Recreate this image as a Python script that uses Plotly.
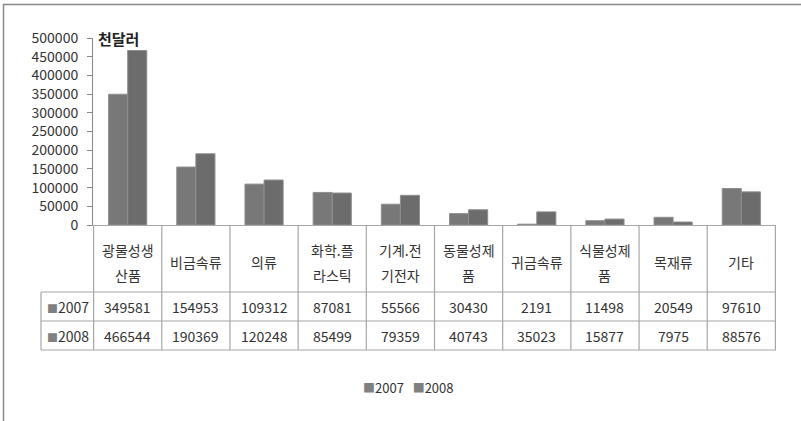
import plotly.graph_objects as go

# ---- data ----
categories = ["광물성생산품", "비금속류", "의류", "화학.플라스틱", "기계.전기전자",
              "동물성제품", "귀금속류", "식물성제품", "목재류", "기타"]
header_lines = [["광물성생", "산품"], ["비금속류"], ["의류"], ["화학.플", "라스틱"],
                ["기계.전", "기전자"], ["동물성제", "품"], ["귀금속류"], ["식물성제", "품"],
                ["목재류"], ["기타"]]
series_names = ["2007", "2008"]
values_2007 = [349581, 154953, 109312, 87081, 55566, 30430, 2191, 11498, 20549, 97610]
values_2008 = [466544, 190369, 120248, 85499, 79359, 40743, 35023, 15877, 7975, 88576]
y_ticks = [0, 50000, 100000, 150000, 200000, 250000, 300000, 350000, 400000, 450000, 500000]
unit_label = "천달러"

# ---- layout geometry (pixels) ----
W, H = 801, 421
L, R, T, B = 93, 776, 38, 225
pw, ph = R - L, B - T


def px_x(p):
    return (p - L) / pw


def px_y(p):
    return (B - p) / ph


FONT = "Noto Sans CJK KR, Malgun Gothic, sans-serif"
TXT = "#333333"
GRID = "#a6a6a6"
BAR_COLORS = ["#787878", "#6c6c6c"]

fig = go.Figure()
for name, vals, col in zip(series_names, [values_2007, values_2008], BAR_COLORS):
    fig.add_trace(go.Bar(x=categories, y=vals, name=name,
                         marker=dict(color=col, line=dict(color="#8e8e8e", width=1))))

shapes = []
annotations = []

# table vertical lines at category boundaries
n = len(categories)
for i in range(n + 1):
    shapes.append(dict(type="line", xref="x", yref="paper", x0=i - 0.5, x1=i - 0.5,
                       y0=px_y(225), y1=px_y(350), line=dict(color=GRID, width=1.2)))
# left label column vertical
shapes.append(dict(type="line", xref="paper", yref="paper", x0=px_x(41), x1=px_x(41),
                   y0=px_y(292), y1=px_y(350), line=dict(color=GRID, width=1.2)))
# horizontal table lines
for yy in [292, 321, 350]:
    shapes.append(dict(type="line", xref="paper", yref="paper", x0=px_x(41), x1=1,
                       y0=px_y(yy), y1=px_y(yy), line=dict(color=GRID, width=1.2)))
# outer chart border (left & top)
shapes.append(dict(type="line", xref="paper", yref="paper", x0=px_x(3.5), x1=px_x(3.5),
                   y0=px_y(4), y1=px_y(425), line=dict(color="#8a8a8a", width=1.5)))
shapes.append(dict(type="line", xref="paper", yref="paper", x0=px_x(3), x1=px_x(805),
                   y0=px_y(4.5), y1=px_y(4.5), line=dict(color="#8a8a8a", width=1.5)))

# header labels
for i, lines in enumerate(header_lines):
    ys = [249.5, 275] if len(lines) == 2 else [262]
    for txt, yy in zip(lines, ys):
        annotations.append(dict(x=i, xref="x", y=px_y(yy), yref="paper", text=txt,
                                showarrow=False, xanchor="center", yanchor="middle",
                                font=dict(family=FONT, size=14, color=TXT)))

# data rows
row_y = [306.5, 335.5]
for name, vals, col, yy in zip(series_names, [values_2007, values_2008], BAR_COLORS, row_y):
    annotations.append(dict(x=px_x(68), xref="paper", y=px_y(yy), yref="paper",
                            text=f"<span style='color:#808080;font-size:11px'>■</span>{name}",
                            showarrow=False, xanchor="center", yanchor="middle",
                            font=dict(family=FONT, size=14, color=TXT)))
    for i, v in enumerate(vals):
        annotations.append(dict(x=i, xref="x", y=px_y(yy), yref="paper", text=str(v),
                                showarrow=False, xanchor="center", yanchor="middle",
                                font=dict(family=FONT, size=14, color=TXT)))

# unit label
annotations.append(dict(x=px_x(96), xref="paper", y=px_y(38), yref="paper", text=f"<b>{unit_label}</b>",
                        showarrow=False, xanchor="left", yanchor="middle",
                        font=dict(family=FONT, size=15, color="#222222")))

# legend
legend_txt = "&nbsp;&nbsp;&nbsp;".join(
    f"<span style='color:#808080;font-size:12px'>■</span>{s}" for s in series_names)
annotations.append(dict(x=px_x(408), xref="paper", y=px_y(387), yref="paper", text=legend_txt,
                        showarrow=False, xanchor="center", yanchor="middle",
                        font=dict(family=FONT, size=13, color=TXT)))

fig.update_layout(
    width=W, height=H,
    margin=dict(l=L, r=W - R, t=T, b=H - B, pad=0),
    paper_bgcolor="white", plot_bgcolor="white",
    barmode="group", bargap=0.44, bargroupgap=0,
    showlegend=False,
    shapes=shapes, annotations=annotations,
    font=dict(family=FONT, size=13, color=TXT),
)
fig.update_xaxes(showticklabels=False, ticks="", showgrid=False, showline=True,
                 linecolor=GRID, linewidth=1.2, zeroline=False, fixedrange=True)
fig.update_yaxes(range=[0, 500000], tickvals=y_ticks, tickformat="d", showgrid=False,
                 showline=True, linecolor="#8a8a8a", linewidth=1, ticks="outside",
                 ticklen=5, tickcolor="#8a8a8a", ticklabelstandoff=6, zeroline=False,
                 tickfont=dict(family=FONT, size=14, color=TXT))

fig.write_html("out.html", config={"displayModeBar": False},
               post_script="document.body.style.margin='0';")
